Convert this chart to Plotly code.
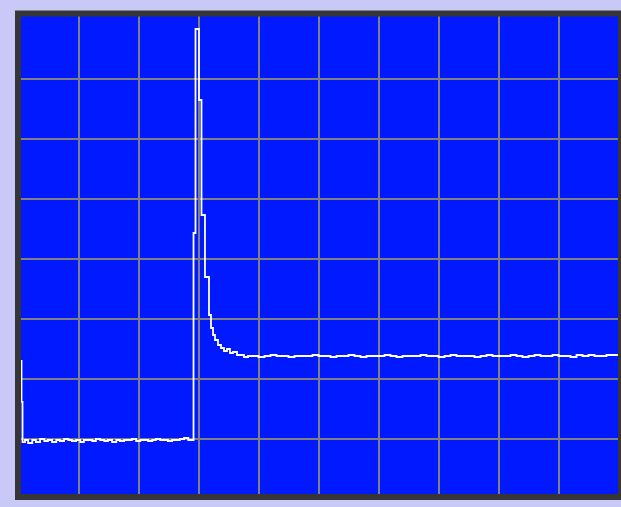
import plotly.graph_objects as go

# Oscilloscope capture: time in divisions (ms), signal in divisions (V)
t_ms = [0.05, 0.067, 0.108,
        0.16, 0.23, 0.29, 0.36, 0.43, 0.49, 0.56, 0.63, 0.69, 0.76,
        0.83, 0.89, 0.96, 1.03, 1.09, 1.16, 1.23, 1.29, 1.36, 1.43,
        1.49, 1.56, 1.63, 1.69, 1.76, 1.83, 1.89, 1.96, 2.03, 2.09,
        2.16, 2.23, 2.29, 2.36, 2.43, 2.49, 2.56, 2.63, 2.69, 2.76,
        2.83, 2.89,
        2.917, 2.95, 3.008, 3.05, 3.108, 3.175, 3.208, 3.242, 3.275,
        3.325, 3.375, 3.425, 3.475, 3.525, 3.575, 3.642, 3.692, 3.758, 3.825,
        3.9, 4.0, 4.1, 4.2, 4.3, 4.4, 4.5, 4.6, 4.7, 4.8, 4.9,
        5.0, 5.1, 5.2, 5.3, 5.4, 5.5, 5.6, 5.7, 5.8, 5.9,
        6.0, 6.1, 6.2, 6.3, 6.4, 6.5, 6.6, 6.7, 6.8, 6.9,
        7.0, 7.1, 7.2, 7.3, 7.4, 7.5, 7.6, 7.7, 7.8, 7.9,
        8.0, 8.1, 8.2, 8.3, 8.4, 8.5, 8.6, 8.7, 8.8, 8.9,
        9.0, 9.1, 9.2, 9.3, 9.4, 9.5, 9.6, 9.7, 9.8, 9.9, 9.99]

v_volts = [2.31, 1.61, 0.94,
           0.975, 0.925, 0.975, 0.942, 0.992, 0.958, 0.975, 0.942, 0.975, 0.958,
           0.992, 0.975, 0.958, 0.975, 0.942, 0.975, 0.975, 0.958, 0.992, 0.975,
           0.958, 0.975, 0.942, 0.975, 0.958, 0.975, 0.975, 0.992, 0.958, 0.975,
           0.975, 0.958, 0.975, 0.992, 0.975, 0.975, 0.958, 0.975, 0.975, 0.992,
           1.008, 0.975,
           0.975, 4.425, 7.825, 6.642, 4.725, 3.692, 3.058, 2.842, 2.725,
           2.642, 2.558, 2.508, 2.458, 2.492, 2.425, 2.442, 2.392, 2.392, 2.358,
           2.375, 2.375, 2.358, 2.375, 2.392, 2.375, 2.375, 2.358, 2.375, 2.375, 2.375,
           2.392, 2.375, 2.375, 2.358, 2.375, 2.375, 2.392, 2.375, 2.358, 2.375,
           2.375, 2.375, 2.392, 2.375, 2.358, 2.375, 2.375, 2.375, 2.392, 2.375,
           2.375, 2.358, 2.375, 2.392, 2.375, 2.375, 2.375, 2.358, 2.375, 2.392,
           2.375, 2.375, 2.375, 2.392, 2.375, 2.358, 2.375, 2.392, 2.375, 2.375,
           2.392, 2.375, 2.375, 2.358, 2.392, 2.375, 2.392, 2.375, 2.375, 2.392, 2.392]

assert len(t_ms) == len(v_volts), (len(t_ms), len(v_volts))

x_grid = [1, 2, 3, 4, 5, 6, 7, 8, 9]
y_grid = [1, 2, 3, 4, 5, 6, 7]

fig = go.Figure()
fig.add_trace(go.Scatter(
    x=t_ms, y=v_volts, mode="lines",
    line=dict(color="white", width=1.8, shape="vh"),
    hoverinfo="skip", showlegend=False,
))

W, H = 621, 507
L, R, T, B = 21, 3, 16, 13
pw, ph = W - L - R, H - T - B

def px(x):
    return (x - L) / pw

def py(y):
    return (H - B - y) / ph

fig.update_layout(
    width=W, height=H,
    margin=dict(l=L, r=R, t=T, b=B, pad=0),
    paper_bgcolor="#c9c9f7",
    plot_bgcolor="#0019ff",
    showlegend=False,
    xaxis=dict(range=[0.0417, 9.9917], tickvals=x_grid, showticklabels=False,
               ticks="", showgrid=True, gridcolor="#7f7f86", gridwidth=2,
               zeroline=False, showline=False, fixedrange=True),
    yaxis=dict(range=[0.075, 8.0417], tickvals=y_grid, showticklabels=False,
               ticks="", showgrid=True, gridcolor="#7f7f86", gridwidth=2,
               zeroline=False, showline=False, fixedrange=True),
    shapes=[
        dict(type="rect", xref="paper", yref="paper",
             x0=px(18), x1=px(621), y0=py(497), y1=py(13.5),
             line=dict(color="#363636", width=6), fillcolor="rgba(0,0,0,0)",
             layer="above"),
    ],
)

fig.write_html(
    "out.html",
    config={"displayModeBar": False, "staticPlot": True},
    post_script="document.body.style.margin='0';"
                "document.body.style.overflow='hidden';"
                "document.body.style.background='#c9c9f7';",
)
